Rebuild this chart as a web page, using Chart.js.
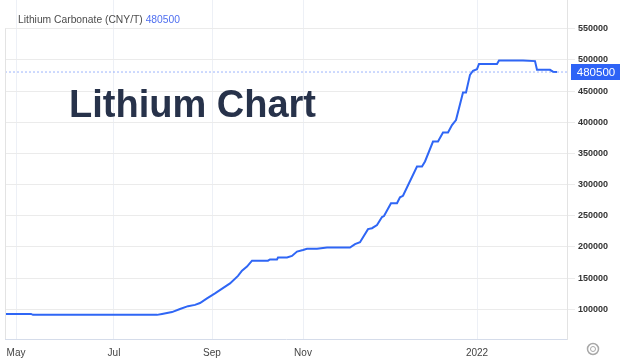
<!DOCTYPE html>
<html>
<head>
<meta charset="utf-8">
<script src="https://cdn.jsdelivr.net/npm/chart.js@4"></script>
<style>
  body { margin: 0; background: #fff; }
  #wrap { position: relative; width: 624px; height: 364px; overflow: hidden; }
  #legend {
    position: absolute; left: 18px; top: 14px;
    font: 10.3px "Liberation Sans", Arial, sans-serif; line-height: 12px;
    color: #4d4d4d; white-space: nowrap;
  }
  #legend span { color: #4f6ff0; }
  #title {
    position: absolute; left: 69px; top: 85px;
    font: bold 38px "Liberation Sans", Arial, sans-serif; line-height: 38px;
    color: #27324a; white-space: nowrap;
  }
</style>
</head>
<body>
<div id="wrap">
  <canvas id="chart" width="624" height="364"></canvas>
  <div id="legend">Lithium Carbonate (CNY/T) <span>480500</span></div>
  <div id="title">Lithium Chart</div>
</div>
<script>
// posisi sumbu x (unit posisi grafik) dan harga CNY/T
const xPos = [0, 26, 28, 152, 157, 167, 175, 183, 190, 195,
  202, 210, 225, 233, 237, 242, 247, 263, 265, 272,
  273, 282, 287, 292, 298, 302, 312, 322, 345, 350,
  355, 363, 367, 372, 377, 379, 386, 392, 395, 398,
  412, 417, 420, 428, 433, 438, 443, 447, 451, 458,
  461, 465, 468, 472, 474, 492, 494, 518, 530, 532,
  545, 548, 552];
const prices = [92500, 92500, 91000, 91000, 92500, 95500, 100500, 105000, 107000, 110000,
  117500, 125500, 141500, 153500, 162000, 168500, 178000, 178000, 180000, 180000,
  183000, 183000, 185500, 192500, 195000, 197000, 197000, 199000, 199000, 204500,
  207500, 228500, 230000, 235000, 248000, 249500, 270000, 270000, 279500, 282000,
  329000, 329000, 337000, 369000, 369000, 383500, 383500, 395500, 403500, 447500,
  447500, 476000, 482500, 485000, 493500, 493500, 499000, 499000, 498000, 484000,
  484000, 481000, 480500];
const lastPrice = 480500;

const xTickPos = [11, 109, 207, 298, 472];
const xTickLabels = ["May", "Jul", "Sep", "Nov", "2022"];
const yTicks = [100000, 150000, 200000, 250000, 300000, 350000, 400000, 450000, 500000, 550000];

const lineData = xPos.map((x, i) => ({ x: x, y: prices[i] }));

// kotak nilai terakhir + ikon gear
const extras = {
  id: "extras",
  afterDraw(chart) {
    const c = chart.ctx;
    const area = chart.chartArea;
    const y = chart.scales.y.getPixelForValue(lastPrice);
    c.save();
    // garis kiri
    c.strokeStyle = "#e3e3e3";
    c.lineWidth = 1;
    c.beginPath();
    c.moveTo(area.left + 0.5, chart.scales.y.getPixelForValue(550000));
    c.lineTo(area.left + 0.5, area.bottom);
    c.stroke();
    // kotak harga
    c.fillStyle = "#2e63f6";
    c.fillRect(571, Math.round(y) - 8, 49, 16);
    c.fillStyle = "#fff";
    c.font = "11.5px 'Liberation Sans', Arial, sans-serif";
    c.textAlign = "center";
    c.textBaseline = "middle";
    c.fillText(String(lastPrice), 596, y + 0.5);
    // gear
    c.strokeStyle = "#a8a8a8";
    c.lineWidth = 1.5;
    c.beginPath();
    c.arc(593, 349, 5.5, 0, Math.PI * 2);
    c.stroke();
    c.lineWidth = 1;
    c.beginPath();
    c.arc(593, 349, 2.5, 0, Math.PI * 2);
    c.stroke();
    c.restore();
  },
};

new Chart(document.getElementById("chart"), {
  type: "line",
  data: {
    datasets: [
      {
        label: "Lithium Carbonate",
        data: lineData,
        borderColor: "#2f66f5",
        borderWidth: 2,
        pointRadius: 0,
        tension: 0,
        order: 1,
      },
      {
        label: "last",
        data: [{ x: 0, y: lastPrice }, { x: 562, y: lastPrice }],
        borderColor: "rgba(90,130,250,0.6)",
        borderWidth: 1,
        borderDash: [2, 2],
        pointRadius: 0,
        order: 2,
      },
    ],
  },
  options: {
    responsive: false,
    animation: false,
    layout: { padding: { left: 5, top: 0, right: 0, bottom: 0 } },
    plugins: { legend: { display: false }, tooltip: { enabled: false } },
    scales: {
      x: {
        type: "linear",
        min: 0,
        max: 562,
        afterBuildTicks: (s) => { s.ticks = xTickPos.map((v) => ({ value: v })); },
        afterFit: (s) => { s.height = 25; s.paddingLeft = 0; s.paddingRight = 0; },
        grid: { color: "#edf0f6", drawTicks: false },
        border: { color: "#d5dcea" },
        ticks: {
          autoSkip: false,
          maxRotation: 0,
          padding: 8,
          color: "#444",
          font: { family: "'Liberation Sans', Arial", size: 10 },
          callback: (v) => xTickLabels[xTickPos.indexOf(v)],
        },
      },
      y: {
        position: "right",
        min: 52300,
        max: 596000,
        afterBuildTicks: (s) => { s.ticks = yTicks.map((v) => ({ value: v })); },
        afterFit: (s) => { s.width = 57; s.paddingTop = 0; s.paddingBottom = 0; },
        grid: { color: "#ebebeb", tickLength: 8 },
        border: { color: "#e3e3e3" },
        ticks: {
          padding: 3,
          color: "#333",
          font: { family: "'Liberation Sans', Arial", size: 9, weight: "bold" },
          callback: (v) => String(v),
        },
      },
    },
  },
  plugins: [extras],
});
</script>
</body>
</html>
